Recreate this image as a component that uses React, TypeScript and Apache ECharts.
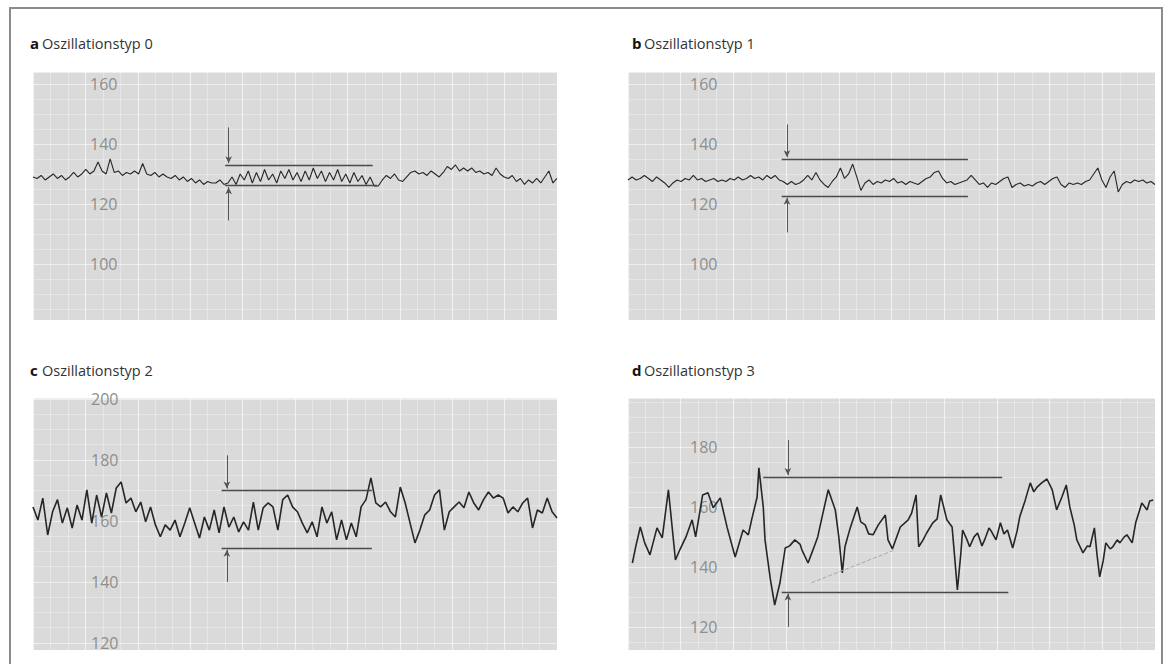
import React, { useEffect, useRef } from "react";
import * as echarts from "echarts";

// Fetal heart rate traces (bpm), sampled evenly over a 600 s strip
const aValues = [
  129, 128.5, 129.5, 128, 129, 130, 128.5, 129.5, 128, 129, 130.5, 129, 130, 131.5, 130, 131, 134,
  131, 130, 135, 130.5, 131, 129.5, 130.5, 130, 131, 130, 133.5, 130, 129.5, 130.5, 129,
  130, 129, 128.5, 129.5, 128, 129, 127.5, 128.5, 127, 128, 126.5, 127.5, 127, 127, 128, 126.5,
  127, 129, 126.5, 130, 128, 131, 127, 130.5, 127.5, 131.5, 128, 130, 127, 131, 128.5, 131.5, 128, 130.5,
  127.5, 131, 128, 132, 128.5, 131, 127.5, 130.5, 128, 131.5, 127.5, 130, 127, 130.5, 127.5, 129.5, 126.5, 129, 126,
  126, 128, 129.5, 128.5, 130, 128, 127.5, 129, 130.5, 131, 130, 130.5, 129.5, 131, 130, 129, 130.5, 132.5,
  131.5, 133, 131, 132, 131, 132, 130.5, 131, 130, 130.5, 129.5, 132, 130, 129, 128.5, 129.5, 127.5, 128.5,
  126.5, 128, 127, 128.5, 127, 129, 131, 127, 128.5,
];

const bValues = [
  128, 129, 128, 128.5, 129.5, 128.5, 127.5, 129, 128, 127, 125.5, 127, 128, 127.5, 128.5, 128, 129.5, 128,
  128.5, 127.5, 128, 128.5, 127.5, 128, 127.5, 128.5, 128, 129, 128, 128.5, 129.5, 128.5, 129, 128, 129.5, 128.5, 129.5,
  128, 127.5, 126.5, 127.5, 126.5, 127, 128, 129.5, 128, 130.5, 128, 126.5, 125.5, 127.5, 129, 132, 128.5, 130,
  133.3, 129, 124.5, 127,
  128, 126.5, 127.5, 127, 128, 127.5, 128.5, 127, 127.5, 126.5, 127.5, 127, 126.5, 127.5, 128.5, 129, 130.5, 131,
  128.5, 127, 127.5, 126.5, 127, 127.5,
  128, 129.5, 128, 126.5, 127, 125.5, 127, 126.5, 127.5, 128.5, 129, 125.5, 126.5, 127, 126, 126.5, 126, 127,
  127.5, 126.5, 127.5, 128.5, 129, 126.5, 125.5, 127, 126.5, 127, 126.5, 127.5, 128, 130, 132, 128, 125.5, 129,
  131, 124, 126.5, 127.5, 127, 128, 127.5, 128, 127, 127.5, 126.5,
];

const cValues = [
  164.6, 160.3, 167.5, 155.4, 163, 167, 159.3, 164.3, 157.7, 165.2, 160.3, 170.2, 159.3, 168.5, 161.3, 169.2,
  162.6, 170.8, 172.8, 165.9, 167.5, 163, 166.2, 159.7, 164.6, 158.7, 154.8, 158.7, 157, 160.3, 154.8, 159.3,
  164.3, 159.3, 154.4, 161.3, 157, 163.6, 156.1, 164.6, 158, 161.3, 156.4, 159.7, 157, 166.2, 157, 164.3,
  165.9, 164.6, 157, 167, 168.5, 164.6,
  163, 159.3, 156.1, 159.7, 154.8, 164.6, 159.3, 163, 153.8, 160.3, 153.8, 159.3, 154.8, 164.6, 167, 174.1,
  165.9, 164.6, 166.2, 163, 161.3, 171.1, 165.9, 159.3, 152.8, 157, 162, 163.6, 168.5, 170.2, 157, 163, 164.6,
  166.2, 164.3, 169.5, 165.9, 163.6, 167, 169.5, 167.5, 168.5, 167.5, 162.6, 164.6, 163, 165.9, 167.5, 157.7,
  163.6, 162.6, 167.5, 163, 161,
];

// [time s, bpm]
const dSamples = [
  [5, 141.3], [9, 147], [14, 153.3], [19, 148], [25, 144], [33, 153], [39, 149.7], [46, 165.7], [54, 142.3],
  [59, 145.7], [66, 150], [73, 155.7], [77, 150], [85, 164], [91, 164.7], [97, 159.7], [105, 163], [113, 153],
  [122, 143.3], [131, 152.3], [137, 150.7], [141, 156], [147, 163.3], [149, 173], [154, 160], [156, 149],
  [162, 136], [167, 127.3], [173, 134.7], [179, 146.3], [184, 147], [190, 149], [196, 147.5], [198, 145.7],
  [205, 141.3], [211, 146], [216, 150], [222, 158], [228, 165.7], [236, 159], [240, 150], [244, 138],
  [247, 146.7], [253, 153], [261, 160], [265, 155], [270, 154], [274, 151], [279, 150.7], [285, 154],
  [293, 157.3], [296, 149], [301, 146], [310, 153.3], [319, 155.7], [323, 158], [328, 164], [331, 146.7],
  [336, 149], [340, 151.3], [347, 154.7], [352, 156], [356, 164], [363, 155.7], [369, 153.3], [372, 143],
  [375, 132.3], [379, 144.7], [381, 152.3], [386, 149], [389, 146.7], [394, 150], [398, 151.3], [403, 147],
  [406, 149], [411, 153], [414, 151.7], [419, 149], [424, 154.7], [428, 151], [432, 152.3], [438, 146.3],
  [443, 152], [446, 156.7], [452, 162], [458, 168], [462, 165], [466, 166.7], [471, 168], [477, 169.3],
  [483, 165.7], [488, 159], [494, 163.3], [499, 167.3], [503, 160], [508, 154], [511, 149], [518, 144.7],
  [523, 147], [526, 146.7], [531, 153], [534, 144], [537, 136.7], [541, 142], [544, 148], [549, 146],
  [552, 146.7], [557, 149], [560, 148], [565, 150], [568, 150.7], [574, 148], [578, 154.7], [585, 161.3],
  [591, 159], [594, 162], [598, 162.3],
];

// Oscillation bands: upper/lower bpm, start/end time (s), arrow time and arrow start values
const aBand = { upper: 133, lower: 126.2, from: 220, to: 389, toLower: 394, arrowAt: 224, arrowTop: 145.5, arrowBottom: 114.5 };
const bBand = { upper: 135, lower: 122.7, from: 175, to: 387, toLower: 387, arrowAt: 181, arrowTop: 146.5, arrowBottom: 110.5 };
const cBand = { upper: 170, lower: 151.2, from: 216, to: 388, toLower: 388, arrowAt: 222, arrowTop: 181.5, arrowBottom: 140 };
const dBand = { upper: 170, lower: 131.7, from: 154, fromLower: 175, to: 426, toLower: 433, arrowAt: 182, arrowTop: 182.3, arrowBottom: 120 };

const titles = [
  { letter: "a", text: "Oszillationstyp 0" },
  { letter: "b", text: "Oszillationstyp 1" },
  { letter: "c", text: "Oszillationstyp 2" },
  { letter: "d", text: "Oszillationstyp 3" },
];

const yRanges = [
  [81.3, 164],
  [81.3, 164],
  [117.7, 200.3],
  [112.3, 196.3],
];

function evenTimes(values: number[]) {
  return values.map((v, i) => [(i * 600) / (values.length - 1), v]);
}

function bandMarks(b: any) {
  const arrowEnd = { symbol: "arrow", symbolSize: [5, 7] };
  return [
    [{ coord: [b.from, b.upper] }, { coord: [b.to, b.upper] }],
    [{ coord: [b.fromLower ?? b.from, b.lower] }, { coord: [b.toLower, b.lower] }],
    [
      { coord: [b.arrowAt, b.arrowTop], lineStyle: { width: 1, color: "#555" } },
      { coord: [b.arrowAt, b.upper + 0.6], ...arrowEnd },
    ],
    [
      { coord: [b.arrowAt, b.arrowBottom], lineStyle: { width: 1, color: "#555" } },
      { coord: [b.arrowAt, b.lower - 0.6], ...arrowEnd },
    ],
  ];
}

export default function App() {
  const ref = useRef<HTMLDivElement>(null);

  useEffect(() => {
    if (!ref.current) return;
    const chart = echarts.init(ref.current, undefined, { renderer: "svg" });

    const grids = [
      { left: 33, top: 72, width: 524, height: 248 },
      { left: 628, top: 72, width: 527, height: 248 },
      { left: 33, top: 398, width: 524, height: 252 },
      { left: 628, top: 398, width: 527, height: 252 },
    ];
    const labelMargins = [57, 62, 58, 62];

    const paper = "#dadada";
    const xAxis = grids.map((_, i) => ({
      type: "value",
      gridIndex: i,
      min: 0,
      max: 600,
      interval: 60,
      axisLine: { show: false },
      axisTick: { show: false },
      axisLabel: { show: false },
      splitLine: { show: true, lineStyle: { color: "rgba(255,255,255,0.6)", width: 1.2 } },
      minorTick: { show: false, splitNumber: 3 },
      minorSplitLine: { show: true, lineStyle: { color: "rgba(255,255,255,0.32)", width: 1 } },
    }));
    const yAxis = grids.map((_, i) => ({
      type: "value",
      gridIndex: i,
      min: yRanges[i][0],
      max: yRanges[i][1],
      axisLine: { show: false },
      axisTick: { show: false },
      axisLabel: {
        show: true,
        inside: true,
        margin: labelMargins[i],
        showMinLabel: false,
        showMaxLabel: false,
        color: "#8e8e8e",
        fontSize: 16,
        fontFamily: "Open Sans",
      },
      splitLine: { show: true, lineStyle: { color: "rgba(255,255,255,0.55)", width: 1.2 } },
      minorTick: { show: false, splitNumber: 4 },
      minorSplitLine: { show: true, lineStyle: { color: "rgba(255,255,255,0.3)", width: 1 } },
    }));

    const markBase = {
      silent: true,
      symbol: "none",
      label: { show: false },
      emphasis: { disabled: true },
      lineStyle: { type: "solid", color: "#4a4a4a", width: 1.3 },
    };

    const traces = [evenTimes(aValues), evenTimes(bValues), evenTimes(cValues), dSamples];
    const bands = [aBand, bBand, cBand, dBand];
    const widths = [1.1, 1.1, 1.6, 1.6];

    const series = traces.map((data, i) => {
      const marks: any[] = bandMarks(bands[i]);
      if (i === 3) {
        marks.push([
          { coord: [209, 134.7], lineStyle: { type: "dashed", color: "#a8a8a8", width: 1 } },
          { coord: [304, 145.7] },
        ]);
      }
      return {
        type: "line",
        xAxisIndex: i,
        yAxisIndex: i,
        data,
        showSymbol: false,
        symbol: "none",
        silent: true,
        lineStyle: { color: "#262626", width: widths[i] },
        emphasis: { disabled: true },
        z: 3,
        markLine: { ...markBase, data: marks },
      };
    });

    const titlePos = [
      [30, 43],
      [632, 43],
      [30, 370],
      [632, 370],
    ];
    const graphic: any[] = [
      {
        type: "rect",
        shape: { x: 10, y: 8, width: 1152, height: 690 },
        style: { fill: "none", stroke: "#8c8c8c", lineWidth: 2 },
        silent: true,
      },
    ];
    titles.forEach((t, i) => {
      graphic.push({
        type: "text",
        x: titlePos[i][0],
        y: titlePos[i][1],
        style: {
          text: t.letter,
          fill: "#111",
          font: "bold 15px 'Open Sans'",
          verticalAlign: "middle",
        },
        silent: true,
      });
      graphic.push({
        type: "text",
        x: titlePos[i][0] + 12,
        y: titlePos[i][1],
        style: {
          text: t.text,
          fill: "#333",
          font: "14.5px 'Open Sans'",
          verticalAlign: "middle",
        },
        silent: true,
      });
    });

    chart.setOption({
      animation: false,
      backgroundColor: "#ffffff",
      grid: grids.map((g) => ({ ...g, show: true, backgroundColor: paper, borderWidth: 0 })),
      xAxis,
      yAxis,
      series,
      graphic,
    });

    return () => chart.dispose();
  }, []);

  return (
    <div
      ref={ref}
      style={{ position: "fixed", left: 0, top: 0, width: 1165, height: 664 }}
    />
  );
}
